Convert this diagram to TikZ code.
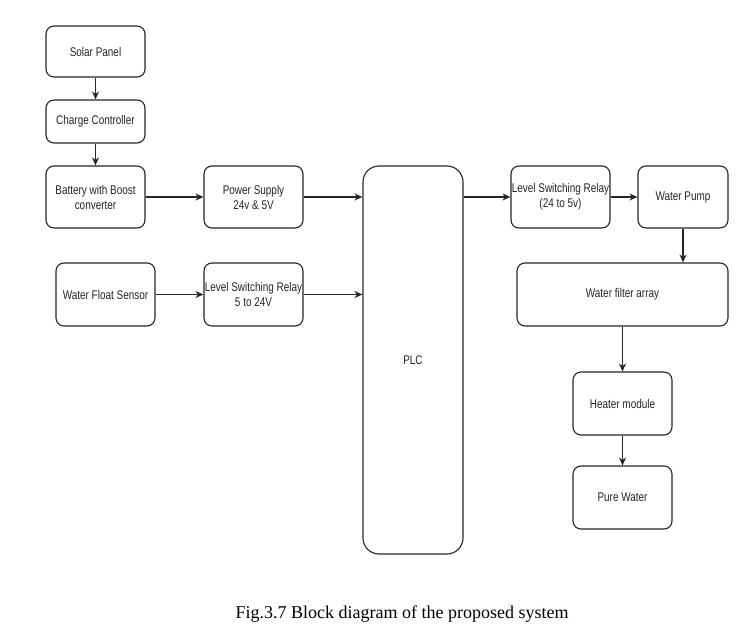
\documentclass[tikz,border=0pt]{standalone}
\usepackage{fontspec}
\setmainfont{Liberation Sans}[FakeStretch=0.79]
\newfontfamily\capfont{Liberation Serif}
\usetikzlibrary{arrows.meta}
\begin{document}
\begin{tikzpicture}[x=1pt,y=-1pt,
  blk/.style={draw=black!85, line width=1.1pt, rounded corners=8pt, inner sep=0pt,
    align=center, font=\fontsize{12.6}{15}\selectfont, text=black!85},
  conn/.style={draw=black!85, line width=1.1pt, -{Stealth[length=8pt,width=7pt]}}]
\useasboundingbox (0,0) rectangle (748,637);
\fill[white] (0,0) rectangle (748,637);
\node[blk, minimum width=99pt, minimum height=51pt] (solar) at (95.5,51.5) {Solar Panel};
\node[blk, minimum width=99pt, minimum height=43pt] (charge) at (95.5,121.5) {Charge Controller};
\node[blk, minimum width=99pt, minimum height=62pt] (battery) at (95.5,197) {Battery with Boost\\converter};
\node[blk, minimum width=99pt, minimum height=62pt] (power) at (253.5,197) {Power Supply\\24v \& 5V};
\node[blk, minimum width=99pt, minimum height=63pt] (float) at (105.5,294.5) {Water Float Sensor};
\node[blk, minimum width=99pt, minimum height=63pt] (lsr1) at (253.5,294.5) {Level Switching Relay\\5 to 24V};
\node[blk, minimum width=100pt, minimum height=388pt, rounded corners=16pt] (plc) at (413,360) {PLC};
\node[blk, minimum width=99pt, minimum height=62pt] (lsr2) at (560.5,197) {Level Switching Relay\\(24 to 5v)};
\node[blk, minimum width=90pt, minimum height=62pt] (pump) at (683,197) {Water Pump};
\node[blk, minimum width=211pt, minimum height=63pt] (filter) at (622.5,294.5) {Water filter array};
\node[blk, minimum width=99pt, minimum height=63pt] (heater) at (622.5,403.5) {Heater module};
\node[blk, minimum width=99pt, minimum height=63pt] (pure) at (622.5,497.5) {Pure Water};
\draw[conn] (solar) -- (charge);
\draw[conn] (charge) -- (battery);
\draw[conn] (battery) -- (power);
\draw[conn] (power) -- (power -| plc.west);
\draw[conn] (float) -- (lsr1);
\draw[conn] (lsr1) -- (lsr1 -| plc.west);
\draw[conn] (lsr2 -| plc.east) -- (lsr2);
\draw[conn] (lsr2) -- (pump);
\draw[conn] (pump.south) -- (pump.south |- filter.north);
\draw[conn] (filter) -- (heater);
\draw[conn] (heater) -- (pure);
\node[font=\capfont\fontsize{18}{20}\selectfont, anchor=base, inner sep=0pt] (cap) at (402,618) {Fig.3.7 Block diagram of the proposed system};
\end{tikzpicture}
\end{document}
